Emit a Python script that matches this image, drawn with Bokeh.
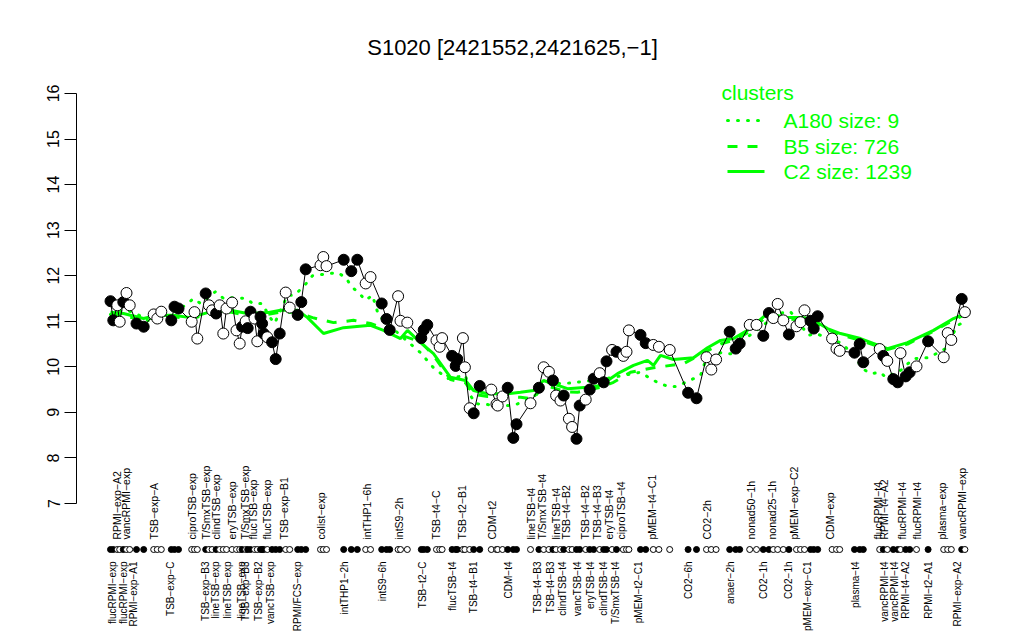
import math
from bokeh.plotting import figure
from bokeh.models import Range1d, FixedTicker, ColumnDataSource
from bokeh.core.properties import value
from bokeh.embed import file_html
from bokeh.resources import INLINE

# ---------------- data ----------------
title_text = "S1020 [2421552,2421625,\u22121]"

sample_x = [2.5, 3.2, 4.2, 4.8, 5.7, 6.5, 7.3, 9.0, 10.8, 13.3, 14.2, 15.2, 17.7, 18.5, 19.5,
            22.8, 23.5, 24.2, 26.3, 27.1, 27.9, 28.9, 29.8, 30.7, 31.5, 32.9, 34.0, 34.8, 35.4,
            36.3, 36.8, 37.5, 38.5, 39.2, 40.0, 40.4, 40.8, 41.7, 42.9, 43.8, 44.8, 46.3, 47.3,
            49.3, 50.2, 51.3, 55.0, 55.7, 56.5, 60.8, 62.7, 64.2, 66.3, 67.5, 70.3, 71.5, 72.3,
            74.4, 75.0, 76.7, 80.2, 80.8, 81.7, 84.0, 84.8, 85.4, 87.9, 88.8, 89.2, 90.6, 91.1,
            92.3, 93.3, 94.8, 97.7, 99.0, 99.3, 100.5, 101.8, 103.2, 104.0, 107.5, 109.6, 110.8,
            112.1, 113.1, 113.9, 115.0, 115.8, 117.1, 117.9, 119.0, 119.8, 121.3, 122.3, 123.3,
            124.8, 125.8, 126.5, 127.9, 129.0, 130.7, 131.5, 132.1, 135.0, 136.3, 138.2, 139.6,
            142.3, 146.9, 149.0, 151.5, 152.7, 153.9, 157.3, 158.8, 159.8, 162.3, 164.0, 165.7,
            167.1, 168.2, 169.3, 170.7, 172.1, 174.0, 175.0, 176.0, 177.5, 178.3, 179.3, 182.9,
            184.0, 184.8, 188.5, 189.8, 190.7, 194.8, 195.7, 196.7, 198.2, 199.3, 200.0, 201.3,
            202.3, 204.0, 206.9, 210.8, 211.8, 212.7, 215.3, 216.1]
sample_value = [11.44, 11.02, 11.35, 10.99, 11.42, 11.62, 11.35, 10.95, 10.88, 11.15, 11.06, 11.21,
                11.02, 11.32, 11.28, 10.99, 11.20, 10.62, 11.61, 11.35, 11.24, 11.17, 11.35, 10.73,
                11.28, 11.41, 10.80, 10.51, 10.88, 11.00, 10.85, 11.21, 11.06, 10.56, 11.10, 10.95,
                10.73, 10.65, 10.54, 10.17, 10.73, 11.63, 11.30, 11.14, 11.42, 12.14, 12.23, 12.41,
                12.21, 12.35, 12.10, 12.35, 11.83, 11.97, 11.39, 11.05, 10.81, 11.55, 11.01, 10.97,
                10.63, 10.81, 10.92, 10.58, 10.44, 10.63, 10.24, 10.02, 10.17, 10.63, 9.99, 9.09,
                8.98, 9.58, 9.50, 9.18, 9.15, 9.35, 9.54, 8.44, 8.74, 9.20, 9.54, 9.99, 9.89, 9.70,
                9.37, 9.26, 9.37, 8.86, 8.68, 8.42, 9.15, 9.28, 9.50, 9.74, 9.86, 9.66, 10.12, 10.37,
                10.33, 10.24, 10.33, 10.80, 10.70, 10.52, 10.48, 10.44, 10.37, 9.43, 9.31, 10.21,
                9.94, 10.16, 10.77, 10.40, 10.51, 10.92, 10.92, 10.68, 11.18, 11.07, 11.38, 11.02,
                10.71, 10.89, 10.98, 11.24, 11.01, 10.84, 11.11, 10.62, 10.40, 10.35, 10.31, 10.50,
                10.10, 10.39, 10.24, 10.13, 9.73, 9.66, 10.30, 9.79, 9.88, 10.01, 10.56, 10.21,
                10.74, 10.59, 11.49, 11.20]
sample_filled = [1, 1, 0, 0, 1, 0, 0, 1, 1, 0, 0, 0, 1, 1, 1, 0, 0, 0, 1, 0, 0, 1, 0, 0, 0, 0, 0, 0,
                 1, 0, 1, 1, 0, 0, 1, 1, 1, 0, 1, 1, 1, 0, 0, 1, 1, 1, 0, 0, 0, 1, 1, 1, 0, 0, 1, 1,
                 1, 0, 0, 0, 1, 1, 1, 0, 0, 0, 1, 1, 1, 0, 0, 0, 1, 1, 0, 0, 0, 0, 1, 1, 1, 0, 1, 0,
                 0, 1, 0, 0, 1, 0, 0, 1, 1, 0, 1, 1, 0, 1, 1, 0, 1, 0, 0, 0, 1, 1, 0, 0, 0, 1, 1, 0,
                 0, 0, 1, 1, 1, 0, 0, 1, 1, 0, 0, 0, 1, 0, 0, 0, 1, 1, 1, 0, 0, 0, 1, 1, 1, 0, 1, 0,
                 1, 1, 0, 1, 1, 0, 1, 0, 0, 0, 1, 0]

# cluster mean profiles (read at selected sample positions)
c2_x = [2.5, 5.75, 10.75, 14.25, 18.25, 22.5, 26.75, 32.5, 36.75, 41.75, 45, 49.25, 51.75, 55.75,
        60.75, 67.5, 70.75, 75, 76.75, 80, 83.25, 87.5, 91.25, 93.25, 96.75, 101.75, 105, 108.25,
        110.75, 116.75, 121.75, 125, 129.25, 133.25, 136.75, 138.25, 140, 143.25, 148.25, 151.75,
        155, 158.25, 161.75, 166.75, 171.75, 175, 177.5, 181.75, 185, 190, 196.75, 201.75, 208.25,
        213.25, 216.25]
c2_y = [11.20, 11.17, 11.06, 11.13, 11.13, 11.08, 11.19, 11.24, 11.17, 11.19, 11.24, 11.24, 11.08,
        10.73, 10.86, 10.91, 10.80, 10.62, 10.80, 10.53, 10.29, 9.77, 9.70, 9.48, 9.41, 9.41, 9.44,
        9.48, 9.70, 9.52, 9.55, 9.59, 9.85, 10.03, 10.14, 10.03, 10.25, 10.16, 10.20, 10.42, 10.58,
        10.62, 10.80, 11.17, 11.08, 11.08, 11.06, 10.84, 10.73, 10.62, 10.40, 10.53, 10.80, 11.06,
        11.17]
b5_x = [2.5, 5.75, 10.75, 14.25, 18.25, 22.5, 26.75, 32.5, 36.75, 41.75, 45, 49.25, 53, 58.25,
        63.25, 67.5, 70.75, 75, 80, 83.25, 87.5, 91.25, 93.25, 96.75, 101.75, 105, 108.25, 110.75,
        116.75, 119.25, 125, 128.25, 132.5, 138.25, 145.75, 151.75, 155, 158.25, 161.75, 166.75,
        171.75, 177.5, 181.75, 185, 190, 196.75, 201.75, 208.25, 213.25, 216.25]
b5_y = [11.15, 11.12, 11.03, 11.10, 11.10, 11.05, 11.15, 11.20, 11.12, 11.15, 11.20, 11.20, 11.08,
        10.97, 11.02, 10.95, 10.85, 10.70, 10.55, 10.25, 9.72, 9.65, 9.40, 9.35, 9.35, 9.33, 9.30,
        9.60, 9.45, 9.44, 9.55, 9.66, 9.88, 9.98, 10.07, 10.35, 10.50, 10.58, 10.75, 11.12, 11.05,
        11.02, 10.82, 10.70, 10.58, 10.38, 10.50, 10.78, 11.03, 11.15]
a180_x = [2.5, 5.75, 8.25, 12.75, 17, 21.25, 23.25, 25, 28.75, 30.75, 32.25, 36.5, 38, 40.5, 42,
          43.5, 46.75, 48.5, 51.25, 53, 59.25, 61.25, 63, 64.5, 66.25, 68, 69.5, 74.25, 80, 83.25,
          86.75, 91.25, 92.5, 93.75, 100, 103.25, 108.25, 111.25, 115.75, 125, 135, 138.25, 141.75,
          144.25, 146.25, 150, 151, 155, 159, 161.25, 166.25, 169.25, 172.5, 177, 178.75, 181.75,
          185.5, 189.25, 190.5, 192.5, 195, 196.25, 200, 203.25, 207, 211.25, 214.25, 216.25]
a180_y = [11.15, 11.25, 11.20, 10.97, 11.17, 11.35, 11.50, 11.39, 11.65, 11.50, 11.52, 11.50, 11.39,
          11.39, 11.13, 10.95, 11.57, 11.57, 11.81, 12.00, 12.07, 11.96, 11.74, 11.63, 11.46, 11.57,
          11.13, 10.75, 10.31, 9.98, 9.74, 9.81, 9.37, 9.19, 9.15, 9.15, 9.33, 9.66, 9.63, 9.72,
          9.88, 9.70, 9.57, 9.57, 9.66, 9.81, 10.07, 10.31, 10.27, 10.62, 10.95, 11.17, 11.21,
          10.69, 10.73, 10.64, 10.51, 10.14, 9.96, 9.85, 9.88, 9.77, 9.92, 10.18, 10.20, 10.40,
          10.91, 11.00]

cluster_names = ["A180 size: 9", "B5 size: 726", "C2 size: 1239"]

top_labels = ["RPMI\u2212exp\u2212A2", "vancRPMI\u2212exp", "TSB\u2212exp\u2212A", "ciproTSB\u2212exp",
              "T/SmxTSB\u2212exp", "clindTSB\u2212exp", "eryTSB\u2212exp", "T/SmxTSB\u2212exp",
              "flucTSB\u2212exp", "flucTSB\u2212exp", "TSB\u2212exp\u2212B1", "colist\u2212exp",
              "intTHP1\u22126h", "intS9\u22122h", "TSB\u2212t4\u2212C", "TSB\u2212t2\u2212B1", "CDM\u2212t2",
              "lineTSB\u2212t4", "T/SmxTSB\u2212t4", "lineTSB\u2212t4", "TSB\u2212t4\u2212B2",
              "TSB\u2212t4\u2212B2", "TSB\u2212t4\u2212B3", "eryTSB\u2212t4", "ciproTSB\u2212t4",
              "pMEM\u2212t4\u2212C1", "CO2\u22122h", "nonad50\u22121h", "nonad25\u22121h",
              "pMEM\u2212exp\u2212C2", "CDM\u2212exp", "flucRPMI\u2212t4", "RPMI\u2212t4\u2212A2",
              "flucRPMI\u2212t4", "flucRPMI\u2212t4", "plasma\u2212exp", "vancRPMI\u2212exp"]
top_label_x = [4.2, 6.25, 13.25, 22.9, 26.25, 28.75, 32.9, 36.0, 38.1, 41.7, 45.8, 55.0, 66.7, 74.6,
               83.75, 90.4, 97.9, 107.5, 110.4, 113.75, 116.25, 121.0, 124.2, 127.1, 130.0, 137.9,
               151.7, 162.5, 167.9, 173.3, 182.3, 194.3, 195.8, 200.4, 204.2, 210.4, 215.4]
bottom_labels = ["flucRPMI\u2212exp", "flucRPMI\u2212exp", "RPMI\u2212exp\u2212A1", "TSB\u2212exp\u2212C",
                 "TSB\u2212exp\u2212B3", "lineTSB\u2212exp", "lineTSB\u2212exp", "lineTSB\u2212exp",
                 "TSB\u2212exp\u2212B3", "TSB\u2212exp\u2212B2", "vancTSB\u2212exp", "RPMI/FCS\u2212exp",
                 "intTHP1\u22122h", "intS9\u22126h", "TSB\u2212t2\u2212C", "flucTSB\u2212t4",
                 "TSB\u2212t4\u2212B1", "CDM\u2212t4", "TSB\u2212t4\u2212B3", "TSB\u2212t4\u2212B3",
                 "clindTSB\u2212t4", "vancTSB\u2212t4", "eryTSB\u2212t4", "clindTSB\u2212t4",
                 "T/SmxTSB\u2212t4", "pMEM\u2212t2\u2212C1", "CO2\u22126h", "anaer\u22122h", "CO2\u22121h",
                 "CO2\u22121h", "pMEM\u2212exp\u2212C1", "plasma\u2212t4", "vancRPMI\u2212t4",
                 "vancRPMI\u2212t4", "RPMI\u2212t4\u2212A2", "RPMI\u2212t2\u2212A1", "RPMI\u2212exp\u2212A2"]
bottom_label_x = [2.9, 5.8, 8.3, 17.5, 26.25, 28.75, 31.7, 35.25, 36.25, 39.6, 42.5, 49.2, 61.0,
                  70.4, 80.4, 87.9, 93.3, 102.1, 109.2, 112.5, 115.4, 119.2, 122.5, 125.8, 128.75,
                  134.6, 147.1, 157.5, 165.8, 172.1, 176.7, 188.75, 196.1, 198.5, 201.25, 207.1,
                  214.2]
y_ticks = [7, 8, 9, 10, 11, 12, 13, 14, 15, 16]

# ---------------- figure ----------------
FONT = value("Liberation Sans")
GREEN = "#00ff00"
PX_PER_Y = 45.56


def ypx(py):  # reference pixel row -> y data
    return 7 + (503 - py) / PX_PER_Y


def xpx(px):  # reference pixel column -> x data
    return (px - 100) / 4.0


p = figure(width=1016, height=632, output_backend="svg", toolbar_location=None,
           x_range=Range1d(xpx(76), xpx(1016)), y_range=Range1d(ypx(632), ypx(0)),
           x_axis_location=None, min_border_left=76, min_border_right=0,
           min_border_top=0, min_border_bottom=0)
p.xgrid.visible = False
p.ygrid.visible = False
p.outline_line_color = None
p.background_fill_color = "white"
p.border_fill_color = "white"

ax = p.yaxis[0]
ax.ticker = FixedTicker(ticks=y_ticks)
ax.bounds = (7, 16)
ax.major_label_orientation = "vertical"
ax.minor_tick_line_color = None
ax.major_tick_in = 0
ax.major_tick_out = 12
ax.major_label_standoff = 5
ax.axis_line_color = "black"
ax.major_tick_line_color = "black"
ax.major_label_text_font = "Liberation Sans"
ax.major_label_text_font_size = "16px"
ax.major_label_text_color = "black"

# cluster profiles
p.line(a180_x, a180_y, line_color=GREEN, line_width=3, line_dash="1 9", line_cap="round")
p.line(b5_x, b5_y, line_color=GREEN, line_width=3, line_dash="10 10")
p.line(c2_x, c2_y, line_color=GREEN, line_width=3)

# gene profile
src = ColumnDataSource(dict(
    x=sample_x, y=sample_value,
    fill=["black" if f else "white" for f in sample_filled],
    row=[ypx(549)] * len(sample_x)))
p.line("x", "y", source=src, line_color="black", line_width=1)
p.scatter("x", "y", source=src, size=11, marker="circle", fill_color="fill",
          line_color="black", line_width=1)
p.scatter("x", "row", source=src, size=6, marker="circle", fill_color="fill",
          line_color="black", line_width=1)

# sample labels
p.text(x=top_label_x, y=[ypx(539)] * len(top_label_x), text=top_labels, angle=math.pi / 2,
       text_align="left", text_baseline="middle", text_font=FONT,
       text_font_size="10.5px", text_color="black")
p.text(x=bottom_label_x, y=[ypx(561)] * len(bottom_label_x), text=bottom_labels,
       angle=math.pi / 2, text_align="right", text_baseline="middle", text_font=FONT,
       text_font_size="10px", text_color="black")

# title
p.text(x=[xpx(512)], y=[ypx(47)], text=[title_text], text_align="center",
       text_baseline="middle", text_font=FONT, text_font_size="22px", text_color="black")

# legend
p.text(x=[xpx(721)], y=[ypx(92)], text=["clusters"], text_align="left",
       text_baseline="middle", text_font=FONT, text_font_size="21px", text_color=GREEN)
leg_rows = [120, 146, 171]
dashes = ["1 9", "10 10", "solid"]
for name, row, dash in zip(cluster_names, leg_rows, dashes):
    p.line([xpx(727), xpx(764)], [ypx(row), ypx(row)], line_color=GREEN, line_width=3,
           line_dash=dash, line_cap="round" if dash == "1 9" else "butt")
    p.text(x=[xpx(783)], y=[ypx(row)], text=[name], text_align="left",
           text_baseline="middle", text_font=FONT, text_font_size="21px", text_color=GREEN)

open("out.html", "w").write(file_html(p, INLINE))
